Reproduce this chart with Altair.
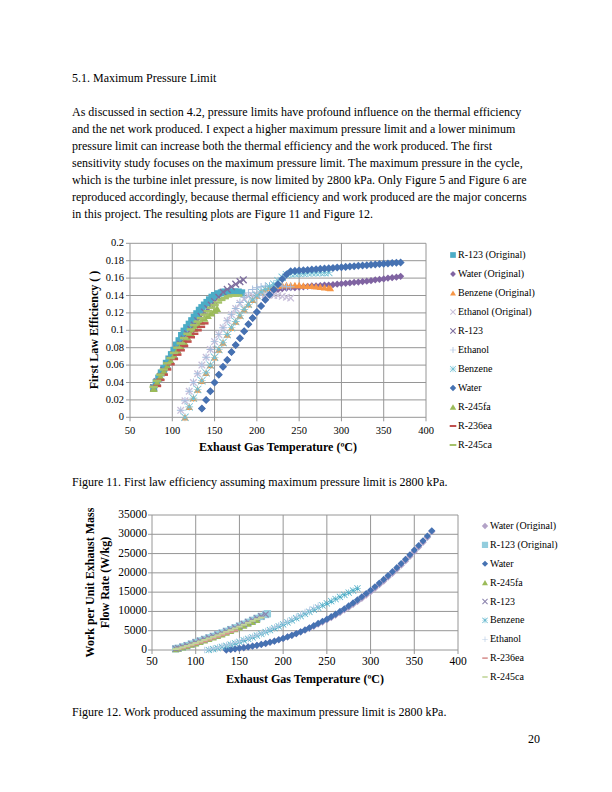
import altair as alt
import pandas as pd

FONT = "Liberation Serif"
GRID = "#969696"

# ---------------- page text ----------------
heading = "5.1. Maximum Pressure Limit"
paragraph = [
    "As discussed in section 4.2, pressure limits have profound influence on the thermal efficiency",
    "and the net work produced. I expect a higher maximum pressure limit and a lower minimum",
    "pressure limit can increase both the thermal efficiency and the work produced. The first",
    "sensitivity study focuses on the maximum pressure limit. The maximum pressure in the cycle,",
    "which is the turbine inlet pressure, is now limited by 2800 kPa. Only Figure 5 and Figure 6 are",
    "reproduced accordingly, because thermal efficiency and work produced are the major concerns",
    "in this project. The resulting plots are Figure 11 and Figure 12.",
]
caption_11 = "Figure 11. First law efficiency assuming maximum pressure limit is 2800 kPa."
caption_12 = "Figure 12. Work produced assuming the maximum pressure limit is 2800 kPa."
page_number = "20"
x_title = "Exhaust Gas Temperature (ºC)"
y_title_11 = "First Law Efficiency ( )"
y_title_12 = ["Work per Unit Exhaust Mass", "Flow Rate (W/kg)"]

x_ticks = [50, 100, 150, 200, 250, 300, 350, 400]
y_ticks_11 = [0, 0.02, 0.04, 0.06, 0.08, 0.1, 0.12, 0.14, 0.16, 0.18, 0.2]
y_ticks_12 = [0, 5000, 10000, 15000, 20000, 25000, 30000, 35000]

# ---------------- Figure 11: first law efficiency ----------------
fig11_series = ["R-123 (Original)", "Water (Original)", "Benzene (Original)", "Ethanol (Original)",
                "R-123", "Ethanol", "Benzene", "Water", "R-245fa", "R-236ea", "R-245ca"]

f11_r123_orig_T = [78, 81, 84, 87, 90, 93, 96, 99, 102, 105, 108, 111, 114, 117, 120, 123, 126, 129,
                   132, 135, 138, 141, 144, 147, 150, 154, 158, 162, 166, 170, 174, 178, 182]
f11_r123_orig = [.034, .040, .045, .051, .056, .062, .067, .072, .077, .083, .088, .094, .099, .103,
                 .107, .111, .115, .119, .123, .126, .129, .132, .135, .138, .140, .142, .143, .144,
                 .144, .144, .144, .144, .143]

f11_water_orig_T = [135, 140, 145, 150, 155, 160, 165, 170, 175, 180, 185, 190, 195, 200, 205, 210,
                    215, 220, 225, 230, 235, 240, 245, 250, 255, 260, 265, 270, 275, 280, 285, 290,
                    295, 300, 305, 310, 315, 320, 325, 330, 335, 340, 345, 350, 355, 360, 365, 370]
f11_water_orig = [.010, .020, .030, .040, .049, .058, .066, .075, .083, .091, .099, .107, .114, .121,
                  .128, .135, .141, .146, .147, .148, .1485, .149, .149, .1495, .150, .1505, .151,
                  .151, .1515, .152, .152, .1525, .153, .1535, .154, .1545, .155, .1555, .156, .1565,
                  .157, .158, .1585, .159, .160, .1605, .161, .162]

f11_benz_orig_T = [115, 120, 125, 130, 135, 140, 145, 150, 155, 160, 165, 170, 175, 180, 185, 190,
                   195, 200, 205, 210, 215, 220, 225, 230, 235, 240, 245, 250, 255, 260, 265, 270,
                   275, 280, 285, 287]
f11_benz_orig = [.000, .012, .022, .032, .042, .051, .060, .069, .078, .086, .095, .103, .110, .117,
                 .124, .130, .135, .140, .144, .147, .149, .150, .151, .152, .152, .152, .152, .152,
                 .1515, .151, .151, .1505, .150, .1495, .149, .1485]

f11_eth_orig_T = [110, 115, 120, 125, 130, 135, 140, 145, 150, 155, 160, 165, 170, 175, 180, 185,
                  190, 195, 200, 205, 210, 215, 220, 225, 230, 235, 240]
f11_eth_orig = [.008, .019, .030, .040, .050, .060, .069, .078, .087, .095, .103, .111, .118, .125,
                .131, .136, .139, .140, .141, .141, .141, .141, .140, .140, .139, .138, .137]

f11_r123_T = [78, 82, 86, 90, 94, 98, 102, 106, 110, 114, 118, 122, 126, 130, 134, 138, 142, 146,
              150, 155, 160, 165, 170, 175, 180, 184]
f11_r123 = [.034, .041, .047, .054, .060, .066, .072, .078, .084, .090, .096, .101, .106, .111, .116,
            .121, .125, .129, .133, .138, .144, .147, .150, .153, .156, .158]

f11_eth_T = [110, 115, 120, 125, 130, 135, 140, 145, 150, 155, 160, 165, 170, 175, 180, 185, 190,
             195, 200, 205, 210, 215, 220, 225, 230, 235, 240]
f11_eth = [.008, .019, .030, .040, .050, .060, .069, .078, .087, .095, .103, .111, .118, .125, .132,
           .138, .143, .147, .149, .150, .151, .151, .151, .151, .151, .150, .150]

f11_benz_T = [115, 120, 125, 130, 135, 140, 145, 150, 155, 160, 165, 170, 175, 180, 185, 190, 195,
              200, 205, 210, 215, 220, 225, 230, 235, 240, 245, 250, 255, 260, 265, 270, 275, 280, 285]
f11_benz = [.000, .012, .022, .032, .042, .051, .060, .069, .078, .086, .095, .103, .110, .117, .124,
            .130, .135, .140, .144, .147, .150, .153, .157, .161, .164, .165, .165, .1655, .1655,
            .166, .166, .166, .1665, .1665, .1665]

f11_water_T = [135, 140, 145, 150, 155, 160, 165, 170, 175, 180, 185, 190, 195, 200, 205, 210, 215,
               220, 225, 230, 235, 240, 245, 250, 255, 260, 265, 270, 275, 280, 285, 290, 295, 300,
               305, 310, 315, 320, 325, 330, 335, 340, 345, 350, 355, 360, 365, 370]
f11_water = [.010, .020, .030, .040, .049, .058, .066, .075, .083, .091, .099, .107, .114, .121,
             .128, .135, .141, .147, .153, .159, .164, .168, .1683, .1687, .169, .1694, .1698,
             .1702, .1706, .171, .1713, .1717, .1721, .1725, .1729, .1733, .1737, .1741, .1745,
             .1749, .1753, .1757, .1761, .1765, .1769, .1773, .1777, .178]

f11_r245fa_T = [78, 82, 86, 90, 94, 98, 102, 106, 110, 114, 118, 122, 126, 130, 134, 138, 142, 146,
                150, 153]
f11_r245fa = [.033, .040, .047, .053, .059, .065, .071, .077, .082, .087, .092, .097, .102, .106,
              .110, .114, .117, .120, .123, .125]

f11_r236ea_T = [82, 86, 90, 94, 98, 102, 106, 110, 114, 118, 122, 126, 130, 134, 138]
f11_r236ea = [.036, .043, .049, .055, .061, .067, .072, .077, .082, .087, .092, .096, .100, .104, .108]

f11_r245ca_T = [78, 82, 86, 90, 94, 98, 102, 106, 110, 114, 118, 122, 126, 130, 134, 138, 142, 146,
                150, 154, 158, 162, 166, 170, 174, 178]
f11_r245ca = [.035, .042, .049, .055, .062, .068, .074, .080, .085, .091, .096, .101, .106, .110,
              .114, .118, .122, .126, .129, .132, .135, .137, .139, .140, .140, .140]

fig11_data = {
    "R-123 (Original)": (f11_r123_orig_T, f11_r123_orig),
    "Water (Original)": (f11_water_orig_T, f11_water_orig),
    "Benzene (Original)": (f11_benz_orig_T, f11_benz_orig),
    "Ethanol (Original)": (f11_eth_orig_T, f11_eth_orig),
    "R-123": (f11_r123_T, f11_r123),
    "Ethanol": (f11_eth_T, f11_eth),
    "Benzene": (f11_benz_T, f11_benz),
    "Water": (f11_water_T, f11_water),
    "R-245fa": (f11_r245fa_T, f11_r245fa),
    "R-236ea": (f11_r236ea_T, f11_r236ea),
    "R-245ca": (f11_r245ca_T, f11_r245ca),
}
fig11_colors = ["#4BACC6", "#8064A2", "#F79646", "#C9C0DA", "#7E6E9E", "#A3BCDD", "#71C0D3",
                "#4672B2", "#9BBB59", "#C0504D", "#A5C26A"]

# ---------------- Figure 12: work per unit exhaust mass flow ----------------
fig12_series = ["Water (Original)", "R-123 (Original)", "Water", "R-245fa", "R-123", "Benzene",
                "Ethanol", "R-236ea", "R-245ca"]

f12_water_orig_T = [135, 140, 145, 150, 155, 160, 165, 170, 175, 180, 185, 190, 195, 200, 205, 210,
                    215, 220, 225, 230, 235, 240, 245, 250, 255, 260, 265, 270, 275, 280, 285, 290,
                    295, 300, 305, 310, 315, 320, 325, 330, 335, 340, 345, 350, 355, 360, 365, 370]
f12_water_orig = [0, 150, 300, 450, 600, 800, 1000, 1200, 1450, 1700, 2000, 2300, 2650, 3000, 3400,
                  3800, 4250, 4700, 5150, 5650, 6150, 6700, 7250, 7800, 8400, 9050, 9700, 10400,
                  11100, 11850, 12600, 13400, 14250, 15100, 16000, 16950, 17900, 18900, 19900,
                  20950, 22000, 23100, 24300, 25500, 26700, 27950, 29250, 30700]

f12_r123_orig_T = [77, 80, 85, 90, 95, 100, 105, 110, 115, 120, 125, 130, 135, 140, 145, 150, 155,
                   160, 165, 170, 175, 180, 182]
f12_r123_orig = [300, 450, 800, 1150, 1550, 1950, 2350, 2750, 3150, 3550, 3950, 4400, 4850, 5300,
                 5750, 6200, 6700, 7200, 7700, 8200, 8700, 9200, 9400]

f12_water_T = [135, 140, 145, 150, 155, 160, 165, 170, 175, 180, 185, 190, 195, 200, 205, 210, 215,
               220, 225, 230, 235, 240, 245, 250, 255, 260, 265, 270, 275, 280, 285, 290, 295, 300,
               305, 310, 315, 320, 325, 330, 335, 340, 345, 350, 355, 360, 365, 370]
f12_water = [0, 150, 300, 450, 600, 800, 1000, 1200, 1450, 1700, 2000, 2300, 2650, 3000, 3400, 3800,
             4250, 4700, 5200, 5750, 6300, 6900, 7450, 8000, 8650, 9300, 10000, 10700, 11450, 12200,
             13000, 13800, 14650, 15500, 16400, 17350, 18300, 19300, 20300, 21350, 22400, 23500,
             24700, 25900, 27100, 28300, 29550, 30900]

f12_r245fa_T = [77, 80, 85, 90, 95, 100, 105, 110, 115, 120, 125, 130, 135, 140, 145, 150, 155, 160,
                165, 170]
f12_r245fa = [200, 350, 650, 1000, 1350, 1700, 2100, 2450, 2850, 3250, 3650, 4050, 4500, 4950, 5400,
              5850, 6300, 6800, 7300, 7800]

f12_r123_T = [77, 80, 85, 90, 95, 100, 105, 110, 115, 120, 125, 130, 135, 140, 145, 150, 155, 160,
              165, 170, 175, 180]
f12_r123 = [350, 500, 850, 1200, 1600, 2000, 2400, 2800, 3200, 3600, 4000, 4450, 4900, 5350, 5800,
            6250, 6750, 7250, 7750, 8250, 8750, 9250]

f12_benz_T = [115, 120, 125, 130, 135, 140, 145, 150, 155, 160, 165, 170, 175, 180, 185, 190, 195,
              200, 205, 210, 215, 220, 225, 230, 235, 240, 245, 250, 255, 260, 265, 270, 275, 280, 285]
f12_benz = [0, 250, 500, 800, 1100, 1400, 1750, 2100, 2500, 2900, 3300, 3750, 4200, 4650, 5150, 5650,
            6150, 6650, 7150, 7700, 8250, 8800, 9350, 9900, 10450, 11000, 11550, 12100, 12650,
            13200, 13750, 14300, 14850, 15400, 16000]

f12_eth_T = [110, 115, 120, 125, 130, 135, 140, 145, 150, 155, 160, 165, 170, 175, 180, 185, 190,
             195, 200, 205, 210, 215, 220, 225, 230, 235, 240]
f12_eth = [0, 200, 450, 700, 1000, 1300, 1600, 1950, 2300, 2700, 3100, 3500, 3950, 4400, 4900, 5400,
           5900, 6400, 6950, 7500, 8050, 8650, 9250, 9850, 10450, 11000, 11500]

f12_r236ea_T = [80, 85, 90, 95, 100, 105, 110, 115, 120, 125, 130, 135, 140, 145]
f12_r236ea = [250, 550, 850, 1200, 1550, 1900, 2250, 2650, 3050, 3450, 3850, 4250, 4650, 5050]

f12_r245ca_T = [77, 80, 85, 90, 95, 100, 105, 110, 115, 120, 125, 130, 135, 140, 145, 150, 155, 160,
                165, 170, 175]
f12_r245ca = [250, 400, 700, 1050, 1400, 1800, 2200, 2600, 3000, 3400, 3800, 4250, 4700, 5150, 5600,
              6050, 6550, 7050, 7550, 8000, 8400]

fig12_data = {
    "Water (Original)": (f12_water_orig_T, f12_water_orig),
    "R-123 (Original)": (f12_r123_orig_T, f12_r123_orig),
    "Water": (f12_water_T, f12_water),
    "R-245fa": (f12_r245fa_T, f12_r245fa),
    "R-123": (f12_r123_T, f12_r123),
    "Benzene": (f12_benz_T, f12_benz),
    "Ethanol": (f12_eth_T, f12_eth),
    "R-236ea": (f12_r236ea_T, f12_r236ea),
    "R-245ca": (f12_r245ca_T, f12_r245ca),
}
fig12_colors = ["#B3A2C7", "#93CDDD", "#4672B2", "#9BBB59", "#8C84AE", "#4BACC6", "#B9CDE5",
                "#D99694", "#C3D69B"]

# ---------------- marker shapes (Excel-like) ----------------
X_PATH = "M-1,-0.75L-0.75,-1L0,-0.25L0.75,-1L1,-0.75L0.25,0L1,0.75L0.75,1L0,0.25L-0.75,1L-1,0.75L-0.25,0Z"
PLUS_PATH = "M-1,-0.12H-0.12V-1H0.12V-0.12H1V0.12H0.12V1H-0.12V0.12H-1Z"
X_THIN = "M-1,-0.85L-0.85,-1L0,-0.15L0.85,-1L1,-0.85L0.15,0L1,0.85L0.85,1L0,0.15L-0.85,1L-1,0.85L-0.15,0Z"
PLUS_THIN = "M-1,-0.08H-0.08V-1H0.08V-0.08H1V0.08H0.08V1H-0.08V0.08H-1Z"
STAR_PATH = X_THIN + PLUS_THIN
DASH_PATH = "M-1,-0.3H1V0.3H-1Z"
shape_of = {
    "R-123 (Original)": "square", "Water (Original)": "diamond", "Benzene (Original)": "triangle-up",
    "Ethanol (Original)": X_PATH, "R-123": X_PATH, "Ethanol": PLUS_PATH, "Benzene": STAR_PATH,
    "Water": "diamond", "R-245fa": "triangle-up", "R-236ea": DASH_PATH, "R-245ca": DASH_PATH,
}
size_of = {"square": 36, "diamond": 50, "triangle-up": 48, X_PATH: 46, PLUS_PATH: 46,
           STAR_PATH: 36, DASH_PATH: 36}


def long_table(data, ycol):
    rows = []
    for name, (ts, vs) in data.items():
        for t, v in zip(ts, vs):
            rows.append({"series": name, "T": t, ycol: v})
    return pd.DataFrame(rows)


def series_scales(names, colors, scale_f):
    shapes = [shape_of[n] for n in names]
    sizes = [size_of[s] * scale_f for s in shapes]
    return dict(
        color=alt.Color("series:N", scale=alt.Scale(domain=names, range=colors), legend=None),
        shape=alt.Shape("series:N", scale=alt.Scale(domain=names, range=shapes), legend=None),
        size=alt.Size("series:N", scale=alt.Scale(domain=names, range=sizes), legend=None),
    )


def txt(text, x, y, size=12, align="left", bold=False, angle=0):
    return alt.Chart(pd.DataFrame({"t": [text]})).mark_text(
        align=align, baseline="middle", font=FONT, fontSize=size, color="black",
        fontWeight="bold" if bold else "normal", angle=angle,
    ).encode(x=alt.value(x), y=alt.value(y), text="t:N")


def figure(data, names, colors, ycol, yticks, yfmt, box, scale_f, lab_size, xlab_y, ylab_x):
    x0, x1, ytop, ybot = box
    X = alt.Scale(domain=[x_ticks[0], x_ticks[-1]], range=[x0, x1], nice=False, zero=False)
    Y = alt.Scale(domain=[yticks[0], yticks[-1]], range=[ybot, ytop], nice=False, zero=False)
    xdf = pd.DataFrame({"T": x_ticks})
    ydf = pd.DataFrame({"v": yticks})
    gx = alt.Chart(xdf).mark_rule(color=GRID, strokeWidth=1).encode(
        x=alt.X("T:Q", scale=X, axis=None), y=alt.value(ytop), y2=alt.value(ybot + 4))
    gy = alt.Chart(ydf).mark_rule(color=GRID, strokeWidth=1).encode(
        y=alt.Y("v:Q", scale=Y, axis=None), x=alt.value(x0 - 4), x2=alt.value(x1))
    lx = alt.Chart(xdf).mark_text(align="center", baseline="middle", font=FONT, fontSize=lab_size,
                                  color="black").encode(
        x=alt.X("T:Q", scale=X, axis=None), y=alt.value(xlab_y), text="T:Q")
    ly = alt.Chart(ydf).mark_text(align="right", baseline="middle", font=FONT, fontSize=lab_size,
                                  color="black").encode(
        y=alt.Y("v:Q", scale=Y, axis=None), x=alt.value(ylab_x), text=alt.Text("v:Q", format=yfmt))
    pts = alt.Chart(long_table(data, ycol)).mark_point(filled=True, opacity=1, strokeWidth=0).encode(
        x=alt.X("T:Q", scale=X, axis=None), y=alt.Y(f"{ycol}:Q", scale=Y, axis=None),
        **series_scales(names, colors, scale_f))
    return alt.layer(gx, gy, lx, ly, pts)


def legend(names, colors, x_sym, y_first, y_last, scale_f, size):
    df = pd.DataFrame({"series": names, "i": list(range(len(names)))})
    y = alt.Y("i:Q", scale=alt.Scale(domain=[0, len(names) - 1], range=[y_first, y_last]), axis=None)
    sym = alt.Chart(df).mark_point(filled=True, opacity=1, strokeWidth=0).encode(
        x=alt.value(x_sym), y=y, **series_scales(names, colors, scale_f))
    lab = alt.Chart(df).mark_text(align="left", baseline="middle", font=FONT, fontSize=size,
                                  color="black").encode(x=alt.value(x_sym + 5), y=y, text="series:N")
    return alt.layer(sym, lab)


# ---------------- page assembly (coordinates are inside the 8px page margin) ----------------
header_df = pd.DataFrame({"line": [heading] + paragraph,
                          "row": [0] + list(range(2, 2 + len(paragraph)))})
header = alt.Chart(header_df).mark_text(align="left", baseline="middle", font=FONT, fontSize=12,
                                        color="black").encode(
    x=alt.value(64),
    y=alt.Y("row:Q", scale=alt.Scale(domain=[0, 8], range=[70, 206]), axis=None),
    text="line:N",
)

fig11 = figure(fig11_data, fig11_series, fig11_colors, "eff", y_ticks_11, "~g",
               (122, 418, 235.3, 409.3), 1.4, 10.5, 423, 116)
leg11 = legend(fig11_series, fig11_colors, 445, 247, 437, 0.9, 10)
fig12 = figure(fig12_data, fig12_series, fig12_colors, "work", y_ticks_12, "d",
               (144, 450, 507, 642), 1.1, 11.5, 654, 139)
leg12 = legend(fig12_series, fig12_colors, 477, 518, 669, 0.8, 10)

texts = alt.layer(
    txt(x_title, 270, 439, 12, "center", True),
    txt(y_title_11, 86, 322, 12, "center", True, 270),
    txt(x_title, 297, 671, 12, "center", True),
    txt(y_title_12[0], 82, 574.5, 12, "center", True, 270),
    txt(y_title_12[1], 97, 574.5, 12, "center", True, 270),
    txt(caption_11, 64, 474),
    txt(caption_12, 64, 704),
    txt(page_number, 532, 731, 12, "right"),
)

chart = alt.layer(header, fig11, leg11, fig12, leg12, texts).resolve_scale(
    x="independent", y="independent", color="independent", shape="independent", size="independent"
).properties(width=596, height=776, padding=0, background="white").configure_view(stroke=None)

chart.save("out.html", embed_options={"renderer": "svg", "actions": False})
